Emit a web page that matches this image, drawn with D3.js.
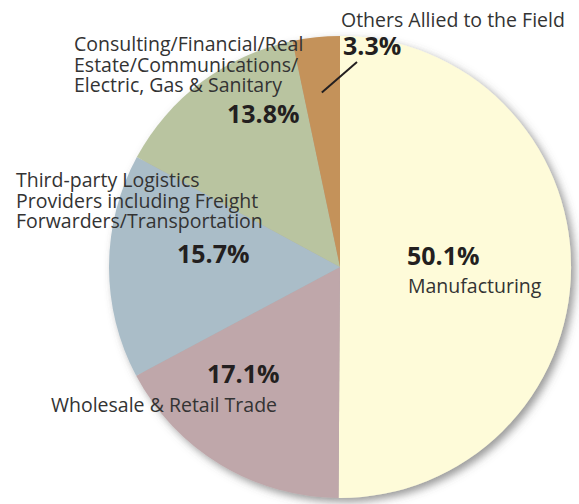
<!DOCTYPE html>
<html>
<head>
<meta charset="utf-8">
<script src="https://cdn.jsdelivr.net/npm/d3@7"></script>
<style>
  html, body { margin: 0; padding: 0; background: #fff; }
  svg { display: block; }
</style>
</head>
<body>
<script>
'use strict';

// data
let categories = ['Manufacturing', 'Wholesale & Retail Trade',
  'Third-party Logistics Providers including Freight Forwarders/Transportation',
  'Consulting/Financial/Real Estate/Communications/Electric, Gas & Sanitary',
  'Others Allied to the Field'];
let values = [50.1, 17.1, 15.7, 13.8, 3.3];
let colors = ['#fefbd9', '#bfa7aa', '#aabdc8', '#b9c4a0', '#c4925a'];
let labelLines = [
  ['Manufacturing'],
  ['Wholesale & Retail Trade'],
  ['Third-party Logistics', 'Providers including Freight', 'Forwarders/Transportation'],
  ['Consulting/Financial/Real', 'Estate/Communications/', 'Electric, Gas & Sanitary'],
  ['Others Allied to the Field']
];

let width = 579, height = 504;
let cx = 340, cy = 267, radius = 231;

// label placement, relative to pie centre (pct = bold value, txt = first line of name)
let layout = [
  {pct: [67, -2], txt: [68, 26]},
  {pct: [-133, 116], txt: [-289, 145]},
  {pct: [-163, -4], txt: [-324, -80]},
  {pct: [-113, -144], txt: [-266, -216]},
  {pct: [3, -212], txt: [1, -240]}
];

let svg = d3.select('body').append('svg')
  .attr('width', width)
  .attr('height', height);

let defs = svg.append('defs');
let filt = defs.append('filter').attr('id', 'shadow')
  .attr('x', '-10%').attr('y', '-10%').attr('width', '130%').attr('height', '130%');
filt.append('feDropShadow')
  .attr('dx', 4).attr('dy', 4)
  .attr('stdDeviation', 4)
  .attr('flood-color', '#555')
  .attr('flood-opacity', 0.6);

let pie = d3.pie().sort(null).value(d => d)(values);
let arc = d3.arc().innerRadius(0).outerRadius(radius);

let g = svg.append('g').attr('transform', `translate(${cx},${cy})`);

g.append('g').attr('filter', 'url(#shadow)')
  .selectAll('path')
  .data(pie)
  .join('path')
  .attr('d', arc)
  .attr('fill', (d, i) => colors[i]);

// leader line for the small slice
let small = pie[4];
let mid = (small.startAngle + small.endAngle) / 2;
let p0 = d3.pointRadial(mid, radius * 0.76);
g.append('line')
  .attr('x1', p0[0]).attr('y1', p0[1])
  .attr('x2', 17).attr('y2', -205)
  .attr('stroke', '#231f20')
  .attr('stroke-width', 2);

let labels = g.selectAll('g.lab')
  .data(pie)
  .join('g')
  .attr('class', 'lab');

labels.append('text')
  .attr('x', (d, i) => layout[i].pct[0])
  .attr('y', (d, i) => layout[i].pct[1])
  .style('font-family', '"Open Sans", sans-serif')
  .style('font-weight', 'bold')
  .style('font-size', '25px')
  .style('fill', '#231f20')
  .text(d => d.data.toFixed(1) + '%');

labels.append('text')
  .attr('x', (d, i) => layout[i].txt[0])
  .attr('y', (d, i) => layout[i].txt[1])
  .style('font-family', '"Open Sans", sans-serif')
  .style('font-size', '19.5px')
  .style('fill', '#333')
  .selectAll('tspan')
  .data((d, i) => labelLines[i])
  .join('tspan')
  .attr('x', function() { return d3.select(this.parentNode).attr('x'); })
  .attr('dy', (d, j) => j ? 20.5 : 0)
  .text(d => d);
</script>
</body>
</html>
